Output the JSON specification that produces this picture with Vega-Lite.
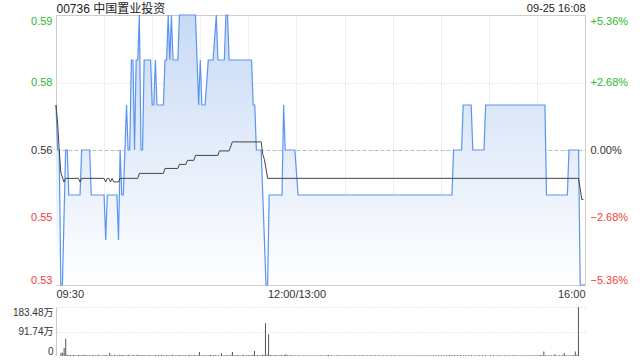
{
  "$schema": "https://vega.github.io/schema/vega-lite/v6.json",
  "padding": {"left": 12, "top": 1, "right": 5, "bottom": 0},
  "spacing": 7,
  "config": {
    "font": "Liberation Sans, Arial, 'Noto Sans CJK SC', sans-serif",
    "view": {"stroke": "#cccccc"},
    "axis": {"ticks": false, "domain": false, "labelColor": "#333333", "titleFontWeight": "normal", "titleColor": "#222222", "gridColor": "#d2d2d2", "gridDash": [1, 2], "labelFontSize": 11}
  },
  "datasets": {
    "price": [
      {"m":0,"p":0.57},{"m":1,"p":0.56},{"m":2,"p":0.56},{"m":3,"p":0.53},{"m":4,"p":0.53},{"m":6,"p":0.56},{"m":7,"p":0.56},{"m":8,"p":0.55},{"m":15,"p":0.55},{"m":16,"p":0.56},{"m":21,"p":0.56},{"m":22,"p":0.55},{"m":30,"p":0.55},{"m":31,"p":0.54},{"m":32,"p":0.55},{"m":38,"p":0.55},{"m":39,"p":0.54},{"m":40,"p":0.56},{"m":41,"p":0.55},{"m":42,"p":0.55},{"m":43,"p":0.56},{"m":44,"p":0.57},{"m":45,"p":0.56},{"m":46,"p":0.56},{"m":47,"p":0.58},{"m":48,"p":0.58},{"m":49,"p":0.56},{"m":50,"p":0.58},{"m":51,"p":0.58},{"m":52,"p":0.59},{"m":53,"p":0.56},{"m":54,"p":0.56},{"m":55,"p":0.58},{"m":59,"p":0.58},{"m":60,"p":0.57},{"m":61,"p":0.57},{"m":62,"p":0.58},{"m":63,"p":0.57},{"m":67,"p":0.57},{"m":68,"p":0.58},{"m":69,"p":0.58},{"m":70,"p":0.59},{"m":71,"p":0.58},{"m":72,"p":0.59},{"m":73,"p":0.58},{"m":76,"p":0.58},{"m":77,"p":0.59},{"m":87,"p":0.59},{"m":89,"p":0.57},{"m":90,"p":0.58},{"m":91,"p":0.57},{"m":93,"p":0.57},{"m":95,"p":0.58},{"m":98,"p":0.58},{"m":100,"p":0.59},{"m":101,"p":0.58},{"m":105,"p":0.58},{"m":106,"p":0.59},{"m":107,"p":0.59},{"m":108,"p":0.58},{"m":122,"p":0.58},{"m":123,"p":0.57},{"m":124,"p":0.57},{"m":125,"p":0.56},{"m":128,"p":0.56},{"m":131,"p":0.53},{"m":132,"p":0.53},{"m":133,"p":0.55},{"m":141,"p":0.55},{"m":142,"p":0.57},{"m":143,"p":0.56},{"m":149,"p":0.56},{"m":151,"p":0.55},{"m":247,"p":0.55},{"m":248,"p":0.56},{"m":253,"p":0.56},{"m":254,"p":0.57},{"m":259,"p":0.57},{"m":260,"p":0.56},{"m":267,"p":0.56},{"m":268,"p":0.57},{"m":305,"p":0.57},{"m":306,"p":0.55},{"m":319,"p":0.55},{"m":320,"p":0.56},{"m":326,"p":0.56},{"m":327,"p":0.53},{"m":330,"p":0.53}
    ],
    "avg": [
      {"m":0,"p":0.57},{"m":1,"p":0.566},{"m":2,"p":0.56},{"m":3,"p":0.555},{"m":5,"p":0.5529},{"m":6,"p":0.5537},{"m":14,"p":0.5537},{"m":15,"p":0.5529},{"m":16,"p":0.5537},{"m":30,"p":0.5537},{"m":31,"p":0.5529},{"m":32,"p":0.5537},{"m":33,"p":0.5537},{"m":34,"p":0.5529},{"m":35,"p":0.5537},{"m":36,"p":0.5529},{"m":39,"p":0.5529},{"m":40,"p":0.5537},{"m":51,"p":0.5537},{"m":52,"p":0.5548},{"m":67,"p":0.5548},{"m":68,"p":0.5559},{"m":76,"p":0.5559},{"m":77,"p":0.5568},{"m":81,"p":0.5568},{"m":82,"p":0.5577},{"m":86,"p":0.5577},{"m":87,"p":0.5588},{"m":101,"p":0.5588},{"m":102,"p":0.5598},{"m":108,"p":0.5598},{"m":110,"p":0.5618},{"m":128,"p":0.5618},{"m":129,"p":0.559},{"m":130,"p":0.5579},{"m":132,"p":0.5537},{"m":326,"p":0.5537},{"m":328,"p":0.549},{"m":329,"p":0.549}
    ],
    "vol": [
      {"m":0,"v":12},{"m":1,"v":12},{"m":2,"v":30},{"m":3,"v":65},{"m":4,"v":5},{"m":5,"v":3},{"m":6,"v":4},{"m":7,"v":2},{"m":8,"v":5},{"m":9,"v":3},{"m":10,"v":2},{"m":11,"v":4},{"m":12,"v":3},{"m":13,"v":2},{"m":14,"v":5},{"m":15,"v":3},{"m":16,"v":4},{"m":17,"v":2},{"m":18,"v":3},{"m":19,"v":2},{"m":20,"v":4},{"m":21,"v":3},{"m":22,"v":2},{"m":23,"v":3},{"m":24,"v":5},{"m":25,"v":2},{"m":26,"v":3},{"m":27,"v":2},{"m":28,"v":4},{"m":29,"v":3},{"m":30,"v":2},{"m":31,"v":11},{"m":32,"v":3},{"m":33,"v":2},{"m":34,"v":4},{"m":35,"v":3},{"m":36,"v":2},{"m":37,"v":5},{"m":38,"v":3},{"m":39,"v":4},{"m":40,"v":3},{"m":41,"v":2},{"m":42,"v":3},{"m":43,"v":5},{"m":44,"v":2},{"m":45,"v":3},{"m":46,"v":4},{"m":47,"v":2},{"m":48,"v":3},{"m":49,"v":5},{"m":50,"v":2},{"m":51,"v":3},{"m":52,"v":4},{"m":53,"v":2},{"m":54,"v":3},{"m":55,"v":2},{"m":56,"v":4},{"m":57,"v":3},{"m":58,"v":2},{"m":59,"v":3},{"m":60,"v":4},{"m":61,"v":2},{"m":62,"v":3},{"m":63,"v":2},{"m":64,"v":5},{"m":65,"v":3},{"m":66,"v":2},{"m":67,"v":3},{"m":68,"v":4},{"m":69,"v":2},{"m":70,"v":3},{"m":71,"v":5},{"m":72,"v":2},{"m":73,"v":3},{"m":74,"v":2},{"m":75,"v":4},{"m":76,"v":3},{"m":77,"v":2},{"m":78,"v":3},{"m":79,"v":4},{"m":80,"v":2},{"m":81,"v":3},{"m":82,"v":5},{"m":83,"v":2},{"m":84,"v":3},{"m":85,"v":4},{"m":86,"v":2},{"m":87,"v":3},{"m":88,"v":15},{"m":89,"v":3},{"m":90,"v":2},{"m":91,"v":4},{"m":92,"v":3},{"m":93,"v":2},{"m":94,"v":3},{"m":95,"v":5},{"m":96,"v":2},{"m":97,"v":3},{"m":98,"v":4},{"m":99,"v":2},{"m":100,"v":3},{"m":101,"v":2},{"m":102,"v":11},{"m":103,"v":3},{"m":104,"v":2},{"m":105,"v":4},{"m":106,"v":3},{"m":107,"v":2},{"m":108,"v":5},{"m":109,"v":15},{"m":110,"v":3},{"m":111,"v":2},{"m":112,"v":4},{"m":113,"v":3},{"m":114,"v":2},{"m":115,"v":3},{"m":116,"v":5},{"m":117,"v":2},{"m":118,"v":3},{"m":119,"v":4},{"m":120,"v":2},{"m":121,"v":3},{"m":122,"v":5},{"m":123,"v":19},{"m":124,"v":3},{"m":125,"v":4},{"m":126,"v":2},{"m":127,"v":3},{"m":128,"v":5},{"m":129,"v":4},{"m":130,"v":123},{"m":131,"v":6},{"m":132,"v":81},{"m":133,"v":4},{"m":134,"v":3},{"m":135,"v":2},{"m":136,"v":4},{"m":137,"v":3},{"m":138,"v":2},{"m":139,"v":3},{"m":140,"v":5},{"m":141,"v":2},{"m":142,"v":4},{"m":143,"v":7},{"m":144,"v":3},{"m":145,"v":2},{"m":146,"v":4},{"m":147,"v":3},{"m":148,"v":2},{"m":149,"v":3},{"m":150,"v":2},
      {"m":151,"v":3},{"m":152,"v":2},{"m":153,"v":2},{"m":154,"v":3},{"m":155,"v":2},{"m":156,"v":3},{"m":157,"v":2},{"m":158,"v":2},{"m":159,"v":3},{"m":160,"v":2},{"m":161,"v":3},{"m":162,"v":2},{"m":163,"v":2},{"m":164,"v":3},{"m":165,"v":2},{"m":166,"v":3},{"m":167,"v":2},{"m":168,"v":2},{"m":169,"v":3},{"m":170,"v":4},{"m":171,"v":2},{"m":172,"v":3},{"m":173,"v":2},{"m":174,"v":2},{"m":175,"v":3},{"m":176,"v":2},{"m":177,"v":3},{"m":178,"v":2},{"m":179,"v":2},{"m":180,"v":3},{"m":181,"v":2},{"m":182,"v":3},{"m":183,"v":2},{"m":184,"v":2},{"m":185,"v":3},{"m":186,"v":2},{"m":187,"v":3},{"m":188,"v":2},{"m":189,"v":2},{"m":190,"v":3},{"m":191,"v":2},{"m":192,"v":3},{"m":193,"v":2},{"m":194,"v":2},{"m":195,"v":3},{"m":196,"v":2},{"m":197,"v":3},{"m":198,"v":2},{"m":199,"v":2},{"m":200,"v":3},{"m":201,"v":2},{"m":202,"v":3},{"m":203,"v":2},{"m":204,"v":2},{"m":205,"v":3},{"m":206,"v":2},{"m":207,"v":3},{"m":208,"v":2},{"m":209,"v":2},{"m":210,"v":3},{"m":211,"v":2},{"m":212,"v":3},{"m":213,"v":2},{"m":214,"v":2},{"m":215,"v":3},{"m":216,"v":2},{"m":217,"v":3},{"m":218,"v":2},{"m":219,"v":2},{"m":220,"v":3},{"m":221,"v":2},{"m":222,"v":3},{"m":223,"v":2},{"m":224,"v":2},{"m":225,"v":3},{"m":226,"v":2},{"m":227,"v":3},{"m":228,"v":2},{"m":229,"v":2},{"m":230,"v":3},{"m":231,"v":2},{"m":232,"v":3},{"m":233,"v":2},{"m":234,"v":2},{"m":235,"v":3},{"m":236,"v":2},{"m":237,"v":3},{"m":238,"v":2},{"m":239,"v":2},{"m":240,"v":3},{"m":241,"v":2},{"m":242,"v":3},{"m":243,"v":2},{"m":244,"v":2},{"m":245,"v":3},{"m":246,"v":2},{"m":247,"v":4},{"m":248,"v":3},{"m":249,"v":2},{"m":250,"v":3},{"m":251,"v":2},{"m":252,"v":3},{"m":253,"v":2},{"m":254,"v":4},{"m":255,"v":2},{"m":256,"v":3},{"m":257,"v":2},{"m":258,"v":2},{"m":259,"v":3},{"m":260,"v":2},{"m":261,"v":3},{"m":262,"v":2},{"m":263,"v":2},{"m":264,"v":3},{"m":265,"v":2},{"m":266,"v":3},{"m":267,"v":2},{"m":268,"v":3},{"m":269,"v":2},{"m":270,"v":3},{"m":271,"v":2},{"m":272,"v":2},{"m":273,"v":3},{"m":274,"v":2},{"m":275,"v":3},{"m":276,"v":2},{"m":277,"v":2},{"m":278,"v":3},{"m":279,"v":2},{"m":280,"v":3},{"m":281,"v":2},{"m":282,"v":2},{"m":283,"v":3},{"m":284,"v":2},{"m":285,"v":3},{"m":286,"v":2},{"m":287,"v":2},{"m":288,"v":3},{"m":289,"v":2},{"m":290,"v":3},{"m":291,"v":2},{"m":292,"v":2},{"m":293,"v":3},{"m":294,"v":2},{"m":295,"v":3},{"m":296,"v":2},{"m":297,"v":2},{"m":298,"v":3},{"m":299,"v":2},{"m":300,"v":3},{"m":301,"v":2},{"m":302,"v":3},{"m":303,"v":2},{"m":304,"v":3},{"m":305,"v":4},{"m":306,"v":3},{"m":307,"v":17},{"m":308,"v":3},{"m":309,"v":2},{"m":310,"v":3},{"m":311,"v":2},{"m":312,"v":3},{"m":313,"v":2},{"m":314,"v":7},{"m":315,"v":3},{"m":316,"v":2},{"m":317,"v":3},{"m":318,"v":2},{"m":319,"v":3},{"m":320,"v":11},{"m":321,"v":3},{"m":322,"v":2},{"m":323,"v":3},{"m":324,"v":2},{"m":325,"v":3},{"m":326,"v":4},{"m":327,"v":17},{"m":328,"v":5},{"m":329,"v":183.48}
    ]
  },
  "vconcat": [
    {
      "width": 529,
      "height": 270,
      "encoding": {
        "x": {
          "field": "m", "type": "quantitative",
          "scale": {"domain": [0, 330], "nice": false, "zero": false},
          "axis": {
            "title": null,
            "values": [0, 30, 60, 90, 120, 150, 180, 210, 240, 270, 300, 330],
            "grid": true,
            "labelFlush": true,
            "labelOverlap": false,
            "labelPadding": 3,
            "labelExpr": "datum.value == 0 ? '09:30' : datum.value == 150 ? '12:00/13:00' : datum.value == 330 ? '16:00' : ''"
          }
        }
      },
      "layer": [
        {
          "data": {"name": "price"},
          "mark": {
            "type": "area",
            "color": {"x1": 0, "y1": 0, "x2": 0, "y2": 1, "gradient": "linear", "stops": [{"offset": 0, "color": "#c8daf6"}, {"offset": 1, "color": "#ffffff"}]}
          },
          "encoding": {
            "y": {
              "field": "p", "type": "quantitative",
              "scale": {"domain": [0.53, 0.59], "zero": false, "nice": false},
              "axis": {
                "orient": "left",
                "values": [0.53, 0.545, 0.56, 0.575, 0.59],
                "grid": true,
                "gridDash": {"condition": {"test": "abs(datum.value - 0.56) < 0.0001", "value": [4, 2]}, "value": [1, 2]},
                "gridColor": {"condition": {"test": "abs(datum.value - 0.56) < 0.0001", "value": "#bbbbbb"}, "value": "#d2d2d2"},
                "labelFlush": true,
                "labelPadding": 4,
                "labelExpr": "format(datum.value + 0.0001, '.2f')",
                "labelColor": {"condition": [{"test": "datum.value > 0.5601", "value": "#2db82d"}, {"test": "datum.value < 0.5599", "value": "#f23c3c"}], "value": "#333333"},
                "title": "00736 中国置业投资",
                "titleAngle": 0,
                "titleAlign": "left",
                "titleBaseline": "middle",
                "titleX": 0,
                "titleY": -7,
                "titleFontSize": 12
              }
            },
            "y2": {"datum": 0.53}
          }
        },
        {
          "data": {"name": "price"},
          "mark": {"type": "line", "color": "#5b95ee", "strokeWidth": 1.2},
          "encoding": {
            "y": {
              "field": "p", "type": "quantitative",
              "axis": {
                "orient": "right",
                "values": [0.53, 0.545, 0.56, 0.575, 0.59],
                "grid": false,
                "labelFlush": true,
                "labelPadding": 5,
                "labelExpr": "(datum.value > 0.5601 ? '+' : '') + format((datum.value / 0.56 - 1) * 100, '.2f') + '%'",
                "labelColor": {"condition": [{"test": "datum.value > 0.5601", "value": "#2db82d"}, {"test": "datum.value < 0.5599", "value": "#f23c3c"}], "value": "#333333"},
                "title": "09-25 16:08",
                "titleAngle": 0,
                "titleAlign": "right",
                "titleBaseline": "middle",
                "titleX": 0,
                "titleY": -7,
                "titleFontSize": 11
              }
            }
          }
        },
        {
          "data": {"name": "avg"},
          "mark": {"type": "line", "color": "#444444", "strokeWidth": 1},
          "encoding": {
            "y": {"field": "p", "type": "quantitative", "axis": null}
          }
        },
        {
          "data": {"values": [{"t": "sina.com"}]},
          "mark": {"type": "text", "align": "right", "baseline": "bottom", "dx": -11, "dy": -1, "color": "#cccccc", "fontSize": 10.5},
          "encoding": {
            "x": {"datum": 330, "type": "quantitative"},
            "y": {"datum": 0.53, "type": "quantitative", "axis": null},
            "text": {"field": "t"}
          }
        }
      ],
      "resolve": {"axis": {"y": "independent"}}
    },
    {
      "width": 529,
      "height": 49,
      "view": {"stroke": null},
      "data": {"name": "vol"},
      "mark": {"type": "bar", "width": 1, "color": "#555555"},
      "encoding": {
        "x": {"field": "m", "type": "quantitative", "scale": {"domain": [0, 330], "nice": false, "zero": false}, "axis": null},
        "y": {
          "field": "v", "type": "quantitative",
          "scale": {"domain": [0, 183.48], "nice": false},
          "axis": {
            "title": null,
            "values": [0, 91.74, 183.48],
            "grid": true,
            "domain": true,
            "domainColor": "#cccccc",
            "labelFlush": true,
            "labelFontSize": 10,
            "labelPadding": 3,
            "labelExpr": "datum.value == 0 ? '0' : format(datum.value, '.2f') + '万'"
          }
        }
      }
    }
  ]
}
